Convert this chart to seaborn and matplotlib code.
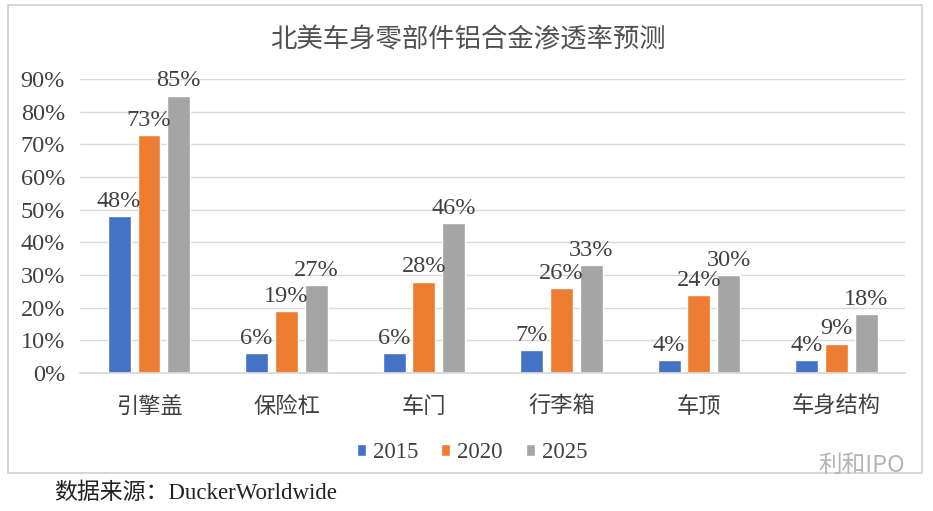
import pandas as pd
import matplotlib.pyplot as plt
import seaborn as sns
from matplotlib.patches import Rectangle
from matplotlib.ticker import PercentFormatter

# data
categories = ['引擎盖', '保险杠', '车门', '行李箱', '车顶', '车身结构']
years = ['2015', '2020', '2025']
share_2015 = [48, 6, 6, 7, 4, 4]
share_2020 = [73, 19, 28, 26, 24, 9]
share_2025 = [85, 27, 46, 33, 30, 18]
colors = ['#4472C4', '#ED7D31', '#A5A5A5']

df = pd.DataFrame({
    'part': categories * 3,
    'year': [y for y in years for _ in categories],
    'share': share_2015 + share_2020 + share_2025,
})

sns.set_theme(style='white')
plt.rcParams['font.family'] = ['Liberation Serif', 'Noto Sans CJK SC']
text_color = '#404040'

fig = plt.figure(figsize=(9.33, 5.11), dpi=100)
ax = fig.add_axes([0.086, 0.27, 0.884, 0.575])

sns.barplot(data=df, x='part', y='share', hue='year', order=categories,
            hue_order=years, palette=colors, width=0.65, gap=0.23,
            saturation=1, ax=ax)

for cont in ax.containers:
    ax.bar_label(cont, fmt='%d%%', padding=3, fontsize=17.5, color=text_color)

ax.set_ylim(0, 90)
ax.set_yticks(range(0, 91, 10))
ax.yaxis.set_major_formatter(PercentFormatter(decimals=0))
ax.grid(axis='y', color='#d9d9d9', linewidth=1)
ax.set_axisbelow(True)
for s in ['left', 'right', 'top']:
    ax.spines[s].set_visible(False)
ax.spines['bottom'].set_color('#d9d9d9')
ax.tick_params(axis='y', length=0, labelsize=17.5, labelcolor=text_color, pad=11)
ax.tick_params(axis='x', length=0, labelsize=16, labelcolor=text_color, pad=17)
ax.set_xlabel('')
ax.set_ylabel('')

ax.legend(loc='upper center', bbox_to_anchor=(0.475, -0.165), ncol=3, frameon=False,
          fontsize=16.5, handlelength=0.4, handleheight=0.4, handletextpad=0.3,
          columnspacing=1.0, labelcolor=text_color)

fig.text(0.502, 0.922, '北美车身零部件铝合金渗透率预测', ha='center', va='center',
         fontsize=19, color='#505050')

# chart border box
fig.patches.append(Rectangle((0.009, 0.075), 0.979, 0.915, transform=fig.transFigure,
                             fill=False, edgecolor='#d0d0d0', linewidth=1.2))

fig.text(0.058, 0.035, '数据来源：DuckerWorldwide', ha='left', va='center',
         fontsize=16.5, color='#222222')
fig.text(0.97, 0.09, '利和IPO', ha='right', va='center', fontsize=17,
         color='#b5b5b5', family=['Noto Sans CJK SC', 'DejaVu Sans'])

fig.savefig('out.png', dpi=100)
